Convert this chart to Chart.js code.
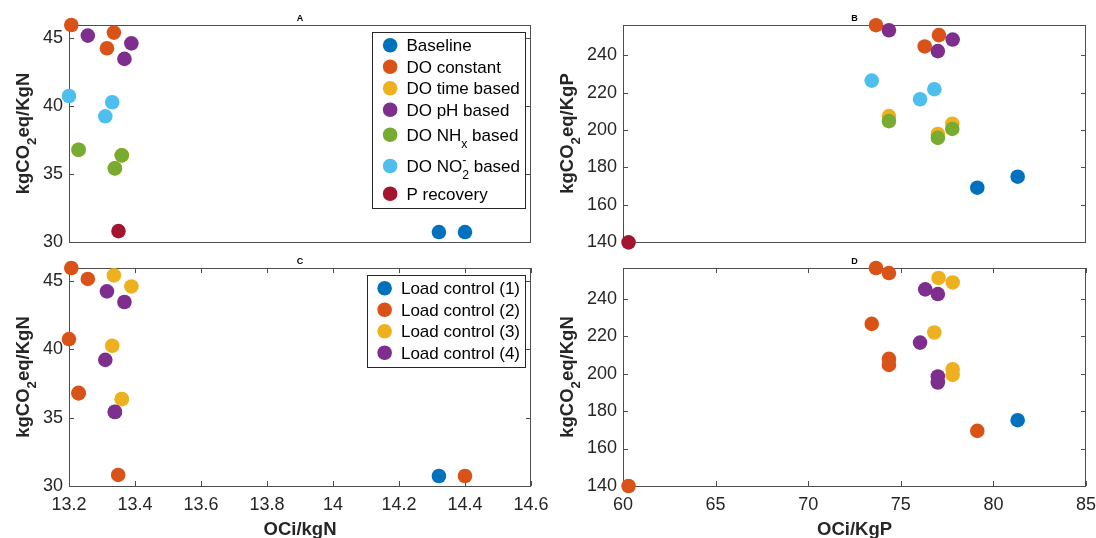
<!DOCTYPE html>
<html>
<head>
<meta charset="utf-8">
<script src="https://cdn.jsdelivr.net/npm/chart.js@4.4.1/dist/chart.umd.min.js"></script>
<style>
  body { margin: 0; background: #fff; width: 1096px; height: 538px; position: relative; overflow: hidden; }
  .panel { position: absolute; }
</style>
</head>
<body>
<div class="panel" style="left:0;top:0"><canvas id="chartA" width="548" height="255"></canvas></div>
<div class="panel" style="left:548px;top:0"><canvas id="chartB" width="548" height="255"></canvas></div>
<div class="panel" style="left:0;top:255px"><canvas id="chartC" width="548" height="283"></canvas></div>
<div class="panel" style="left:548px;top:255px"><canvas id="chartD" width="548" height="283"></canvas></div>
<script>
// tick values
const nxTicks = [13.2, 13.4, 13.6, 13.8, 14, 14.2, 14.4, 14.6];
const pxTicks = [60, 65, 70, 75, 80, 85];
const nyTicks = [30, 35, 40, 45];
const pyTicks = [140, 160, 180, 200, 220, 240];

// series names (_ = subscript, ^ = superscript)
const strategyLabels = ['Baseline', 'DO constant', 'DO time based', 'DO pH based', 'DO NH_x based', 'DO NO_2^- based', 'P recovery'];
const loadLabels = ['Load control (1)', 'Load control (2)', 'Load control (3)', 'Load control (4)'];
const seriesColors = ['#0072BD', '#D95319', '#EDB120', '#7E2F8E', '#77AC30', '#4DBEEE', '#A2142F'];

// A : OCi/kgN vs kgCO2eq/KgN, control strategies
const aX = [
    [14.321, 14.40],
    [13.207, 13.336, 13.315],
    [13.229, 13.36, 13.339],
    [13.257, 13.389, 13.368],
    [13.229, 13.36, 13.339],
    [13.2, 13.331, 13.31],
    [13.35]
];
const aY = [
    [30.73, 30.73],
    [45.95, 45.39, 44.24],
    [36.78, 36.37, 35.41],
    [45.17, 44.6, 43.46],
    [36.78, 36.37, 35.41],
    [40.73, 40.27, 39.24],
    [30.8]
];

// B : OCi/KgP vs kgCO2eq/KgP, control strategies
const bX = [
    [79.13, 81.31],
    [73.66, 77.06, 76.29],
    [74.36, 77.78, 77.0],
    [74.36, 77.8, 77.0],
    [74.36, 77.78, 77.0],
    [73.43, 76.81, 76.04],
    [60.3]
];
const bY = [
    [169.1, 175.0],
    [256.2, 250.9, 244.8],
    [207.5, 203.4, 197.9],
    [253.5, 248.5, 242.3],
    [204.8, 200.6, 195.8],
    [226.5, 221.9, 216.5],
    [139.8]
];

// C : OCi/kgN vs kgCO2eq/KgN, load control
const cX = [
    [14.321],
    [13.207, 13.257, 13.2, 13.229, 13.229, 13.349, 14.40],
    [13.336, 13.389, 13.331, 13.36, 13.36],
    [13.315, 13.368, 13.31, 13.339, 13.339]
];
const cY = [
    [30.73],
    [45.95, 45.15, 40.75, 36.81, 36.78, 30.81, 30.73],
    [45.41, 44.6, 40.26, 36.37, 36.35],
    [44.24, 43.46, 39.23, 35.43, 35.41]
];

// D : OCi/KgP vs kgCO2eq/KgN, load control
const dX = [
    [81.31],
    [73.66, 74.36, 73.43, 74.36, 74.36, 60.3, 79.13],
    [77.04, 77.8, 76.81, 77.8, 77.8],
    [76.32, 77.0, 76.04, 77.0, 77.0]
];
const dY = [
    [175.1],
    [256.3, 253.6, 226.5, 207.8, 204.6, 140.0, 169.4],
    [251.0, 248.6, 221.9, 202.3, 199.3],
    [244.9, 242.4, 216.5, 198.4, 195.2]
];

const nRangeX = [13.2, 14.6];
const nRangeY = [30, 45.95];
const pRangeX = [60, 85];
const pRangeY = [140, 256.3];

const FONT = "'Liberation Sans', Arial, Helvetica, sans-serif";
const INK = '#262626';

// small tex-like text: "kgCO_2eq" -> sub 2, "NO_2^-" -> sub 2 with sup - stacked
function parseRich(s)
{
    const parts = [];
    let buf = '';
    for (let i = 0; i < s.length; i++) {
        const c = s[i];
        if ((c === '_' || c === '^') && i + 1 < s.length) {
            if (buf) { parts.push({ t: buf, k: 0 }); buf = ''; }
            parts.push({ t: s[i + 1], k: c === '_' ? 1 : -1 });
            i++;
        } else {
            buf += c;
        }
    }
    if (buf) parts.push({ t: buf, k: 0 });
    return parts;
}

function layoutRich(ctx, s, size, weight)
{
    const runs = [];
    let x = 0, lastSub = null;
    parseRich(s).forEach(p => {
        const fs = p.k ? size * 0.72 : size;
        const font = weight + ' ' + fs + 'px ' + FONT;
        ctx.font = font;
        const w = ctx.measureText(p.t).width;
        const dy = p.k === 1 ? size * 0.42 : (p.k === -1 ? -size * 0.46 : 0);
        let rx = x;
        if (p.k === -1 && lastSub) {
            rx = lastSub.x;
            x = Math.max(x, rx + w);
        } else {
            x += w;
        }
        const run = { t: p.t, x: rx, dy: dy, font: font };
        runs.push(run);
        lastSub = p.k === 1 ? run : null;
    });
    return { runs: runs, width: x };
}

function drawRich(ctx, lay, x, y)
{
    lay.runs.forEach(r => {
        ctx.font = r.font;
        ctx.fillText(r.t, x + r.x, y + r.dy);
    });
}

function drawLegend(chart)
{
    const { ctx, chartArea: a } = chart;
    const size = 17;
    const items = chart.data.datasets.map(ds => {
        const lay = layoutRich(ctx, ds.label, size, 'normal');
        const h = 21.5 + (ds.label.includes('_') ? 7 : 0) + (ds.label.includes('^') ? 5.5 : 0);
        return { ds: ds, lay: lay, h: h };
    });
    const textW = Math.max(...items.map(it => it.lay.width));
    const w = 34 + textW + 5;
    const h = items.reduce((s, it) => s + it.h, 0) + 5.5;
    const right = a.right - 6, top = a.top + 7, left = right - w;

    ctx.fillStyle = '#fff';
    ctx.fillRect(left, top, w, h);
    ctx.strokeStyle = INK;
    ctx.lineWidth = 1;
    ctx.strokeRect(Math.round(left) + 0.5, Math.round(top) + 0.5, Math.round(w), Math.round(h));

    let cy = top + 2.5;
    items.forEach(it => {
        const c = cy + it.h / 2;
        ctx.fillStyle = it.ds.backgroundColor;
        ctx.beginPath();
        ctx.arc(left + 17.7, c, 7.3, 0, 2 * Math.PI);
        ctx.fill();
        ctx.fillStyle = '#000';
        ctx.textAlign = 'left';
        ctx.textBaseline = 'alphabetic';
        drawRich(ctx, it.lay, left + 34, c + 0.36 * size);
        cy += it.h;
    });
}

// matlab style box, inward ticks, titles and legend
function framePlugin(cfg)
{
    return {
        id: 'frame' + cfg.title,
        beforeDatasetsDraw(chart) {
            const { ctx, chartArea: a, scales } = chart;
            ctx.save();
            ctx.strokeStyle = '#4d4d4d';
            ctx.lineWidth = 1;
            ctx.strokeRect(Math.round(a.left) + 0.5, Math.round(a.top) + 0.5,
                Math.round(a.right - a.left) - 1, Math.round(a.bottom - a.top));
            ctx.beginPath();
            scales.y.ticks.forEach(t => {
                const py = Math.round(scales.y.getPixelForValue(t.value)) + 0.5;
                ctx.moveTo(a.left, py); ctx.lineTo(a.left + 5, py);
                ctx.moveTo(a.right, py); ctx.lineTo(a.right - 5, py);
            });
            if (cfg.xLabel) {
                scales.x.ticks.forEach(t => {
                    const px = Math.round(scales.x.getPixelForValue(t.value)) + 0.5;
                    ctx.moveTo(px, a.bottom); ctx.lineTo(px, a.bottom - 5);
                    ctx.moveTo(px, a.top); ctx.lineTo(px, a.top + 5);
                });
            }
            ctx.stroke();
            ctx.restore();
        },
        afterDraw(chart) {
            const { ctx, chartArea: a, scales } = chart;
            ctx.save();
            ctx.fillStyle = '#000';
            ctx.textAlign = 'center';
            ctx.textBaseline = 'alphabetic';
            ctx.font = 'bold 9px ' + FONT;
            ctx.fillText(cfg.title, (a.left + a.right) / 2, a.top - 4);

            // y label left of the tick labels
            ctx.font = '18px ' + FONT;
            const tickW = Math.max(...scales.y.ticks.map(t => ctx.measureText(String(t.label)).width));
            const bx = a.left - 6 - tickW - 14.3;
            const yl = layoutRich(ctx, cfg.yLabel, 18.5, 'bold');
            ctx.fillStyle = INK;
            ctx.textAlign = 'left';
            ctx.translate(bx, (a.top + a.bottom) / 2);
            ctx.rotate(-Math.PI / 2);
            drawRich(ctx, yl, -yl.width / 2, 0);
            ctx.setTransform(1, 0, 0, 1, 0, 0);

            if (cfg.xLabel) {
                const xl = layoutRich(ctx, cfg.xLabel, 18.5, 'bold');
                drawRich(ctx, xl, (a.left + a.right) / 2 - xl.width / 2, a.bottom + 49);
            }
            if (cfg.legend) drawLegend(chart);
            ctx.restore();
        }
    };
}

function makeDatasets(labels, xs, ys)
{
    return labels.map((label, i) => ({
        label: label,
        data: xs[i].map((x, j) => ({ x: x, y: ys[i][j] })),
        backgroundColor: seriesColors[i],
        borderColor: seriesColors[i],
        pointRadius: 7.3,
        pointHoverRadius: 7.3,
        pointBorderWidth: 0,
        clip: false,
        order: -i
    }));
}

function makeChart(id, cfg)
{
    const canvas = document.getElementById(id);
    const W = canvas.width, H = canvas.height;
    const xh = cfg.xLabel ? 52 : 0;
    return new Chart(canvas, {
        type: 'scatter',
        data: { datasets: makeDatasets(cfg.labels, cfg.xs, cfg.ys) },
        options: {
            responsive: false,
            animation: false,
            events: [],
            layout: {
                padding: { left: 0, top: cfg.area.top, right: W - cfg.area.right, bottom: cfg.xLabel ? 0 : H - cfg.area.bottom }
            },
            plugins: { legend: { display: false }, tooltip: { enabled: false } },
            scales: {
                x: {
                    type: 'linear',
                    min: cfg.xRange[0],
                    max: cfg.xRange[1],
                    afterBuildTicks: s => { s.ticks = cfg.xTicks.map(v => ({ value: v })); },
                    afterFit: s => { s.height = xh; s.paddingLeft = 0; s.paddingRight = 0; },
                    grid: { display: false, drawTicks: false },
                    border: { display: false },
                    ticks: {
                        display: !!cfg.xLabel, padding: 8, autoSkip: false, maxRotation: 0,
                        color: INK, font: { family: FONT, size: 18 },
                        callback: v => String(v)
                    }
                },
                y: {
                    type: 'linear',
                    min: cfg.yRange[0],
                    max: cfg.yRange[1],
                    afterBuildTicks: s => { s.ticks = cfg.yTicks.map(v => ({ value: v })); },
                    afterFit: s => { s.width = cfg.area.left; s.paddingTop = 0; s.paddingBottom = 0; },
                    grid: { display: false, drawTicks: false },
                    border: { display: false },
                    ticks: {
                        padding: 6, autoSkip: false,
                        color: INK, font: { family: FONT, size: 18 },
                        callback: v => String(v)
                    }
                }
            }
        },
        plugins: [framePlugin(cfg)]
    });
}

makeChart('chartA', {
    title: 'A', yLabel: 'kgCO_2eq/KgN', xLabel: null, legend: true,
    labels: strategyLabels, xs: aX, ys: aY,
    xRange: nRangeX, yRange: nRangeY, xTicks: nxTicks, yTicks: nyTicks,
    area: { left: 69, right: 531, top: 25, bottom: 242 }
});
makeChart('chartB', {
    title: 'B', yLabel: 'kgCO_2eq/KgP', xLabel: null, legend: false,
    labels: strategyLabels, xs: bX, ys: bY,
    xRange: pRangeX, yRange: pRangeY, xTicks: pxTicks, yTicks: pyTicks,
    area: { left: 75, right: 538, top: 25, bottom: 242 }
});
makeChart('chartC', {
    title: 'C', yLabel: 'kgCO_2eq/KgN', xLabel: 'OCi/kgN', legend: true,
    labels: loadLabels, xs: cX, ys: cY,
    xRange: nRangeX, yRange: nRangeY, xTicks: nxTicks, yTicks: nyTicks,
    area: { left: 69, right: 531, top: 13, bottom: 231 }
});
makeChart('chartD', {
    title: 'D', yLabel: 'kgCO_2eq/KgN', xLabel: 'OCi/KgP', legend: false,
    labels: loadLabels, xs: dX, ys: dY,
    xRange: pRangeX, yRange: pRangeY, xTicks: pxTicks, yTicks: pyTicks,
    area: { left: 75, right: 538, top: 13, bottom: 231 }
});
</script>
</body>
</html>
